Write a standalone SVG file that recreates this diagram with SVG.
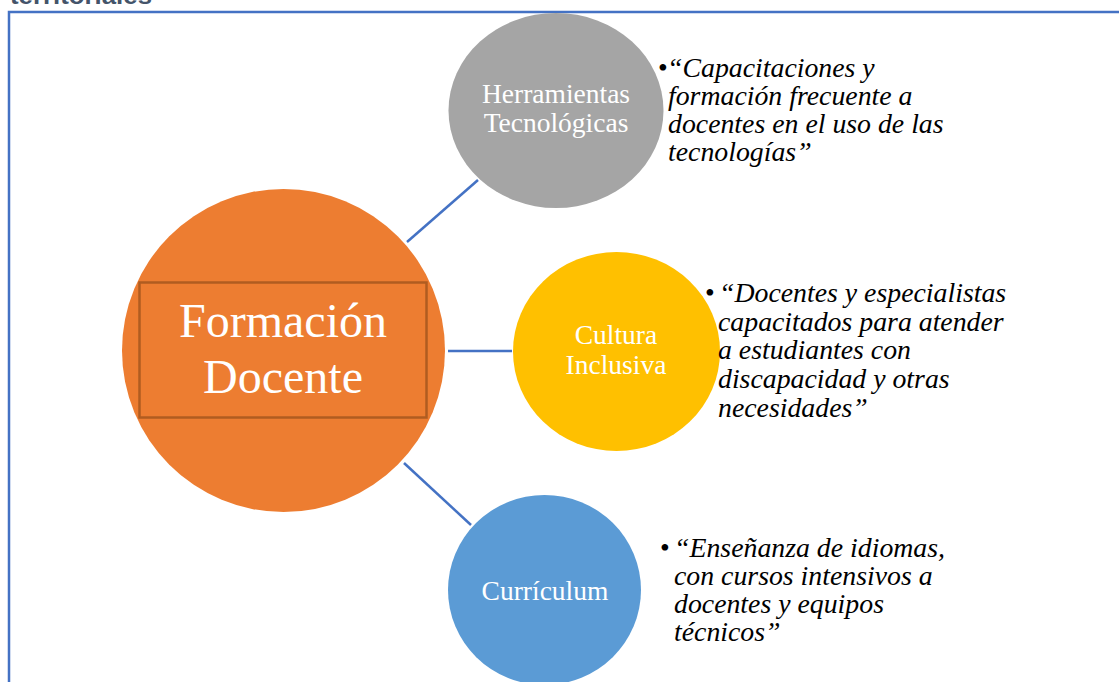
<svg xmlns="http://www.w3.org/2000/svg" width="1119" height="682" viewBox="0 0 1119 682">
  <style>
    .frame { fill: none; stroke: #4472c4; stroke-width: 2.5; }
    .conn { stroke: #4472c4; stroke-width: 2.5; fill: none; }
    .ctext { font-family: "Liberation Serif", "Times New Roman", serif; fill: #ffffff; text-anchor: middle; }
    .note { font-family: "Liberation Serif", "Times New Roman", serif; font-style: italic; font-size: 27.8px; fill: #000000; }
    .bullet { font-family: "Liberation Serif", "Times New Roman", serif; font-size: 27.8px; fill: #000000; }
    .title { font-family: "Liberation Sans", Arial, sans-serif; font-weight: bold; font-size: 24px; fill: #44546a; }
  </style>
  <rect width="1119" height="682" fill="#ffffff"/>
  <text class="title" x="10" y="4" textLength="142" lengthAdjust="spacingAndGlyphs">territoriales</text>
  <path class="frame" d="M9 684 V12 H1121"/>

  <g id="connectors">
    <line class="conn" x1="407" y1="242" x2="478" y2="180"/>
    <line class="conn" x1="448" y1="351" x2="512" y2="351"/>
    <line class="conn" x1="404" y1="463" x2="471" y2="525"/>
  </g>

  <g id="formacion-docente">
    <circle cx="283.5" cy="350.5" r="161.5" fill="#ed7d31"/>
    <rect x="139.5" y="282.5" width="287" height="135" fill="none" stroke="#b05c20" stroke-width="2.5"/>
    <text class="ctext" font-size="48" x="283" y="337">Formación</text>
    <text class="ctext" font-size="48" x="283" y="393">Docente</text>
  </g>

  <g id="herramientas">
    <ellipse cx="556" cy="110.5" rx="107.5" ry="97.5" fill="#a5a5a5"/>
    <text class="ctext" font-size="27.5" x="556" y="103">Herramientas</text>
    <text class="ctext" font-size="27.5" x="556" y="132">Tecnológicas</text>
  </g>

  <g id="cultura">
    <ellipse cx="616.5" cy="351.5" rx="103.5" ry="99.5" fill="#ffc000"/>
    <text class="ctext" font-size="27.5" x="616" y="344">Cultura</text>
    <text class="ctext" font-size="27.5" x="616" y="374">Inclusiva</text>
  </g>

  <g id="curriculum">
    <ellipse cx="544.5" cy="590" rx="96.5" ry="95" fill="#5b9bd5"/>
    <text class="ctext" font-size="27.5" x="545" y="600">Currículum</text>
  </g>

  <g id="note-herramientas">
    <text class="bullet" x="658" y="77">•</text>
    <text class="note" x="667" y="77">“Capacitaciones y</text>
    <text class="note" x="668" y="105">formación frecuente a</text>
    <text class="note" x="668" y="133">docentes en el uso de las</text>
    <text class="note" x="668" y="161">tecnologías”</text>
  </g>

  <g id="note-cultura">
    <text class="bullet" x="705" y="302">•</text>
    <text class="note" x="719" y="302">“Docentes y especialistas</text>
    <text class="note" x="718" y="331">capacitados para atender</text>
    <text class="note" x="718" y="359">a estudiantes con</text>
    <text class="note" x="718" y="388">discapacidad y otras</text>
    <text class="note" x="718" y="417">necesidades”</text>
  </g>

  <g id="note-curriculum">
    <text class="bullet" x="660" y="557">•</text>
    <text class="note" x="674" y="557">“Enseñanza de idiomas,</text>
    <text class="note" x="674" y="585">con cursos intensivos a</text>
    <text class="note" x="674" y="613">docentes y equipos</text>
    <text class="note" x="674" y="641">técnicos”</text>
  </g>
</svg>
